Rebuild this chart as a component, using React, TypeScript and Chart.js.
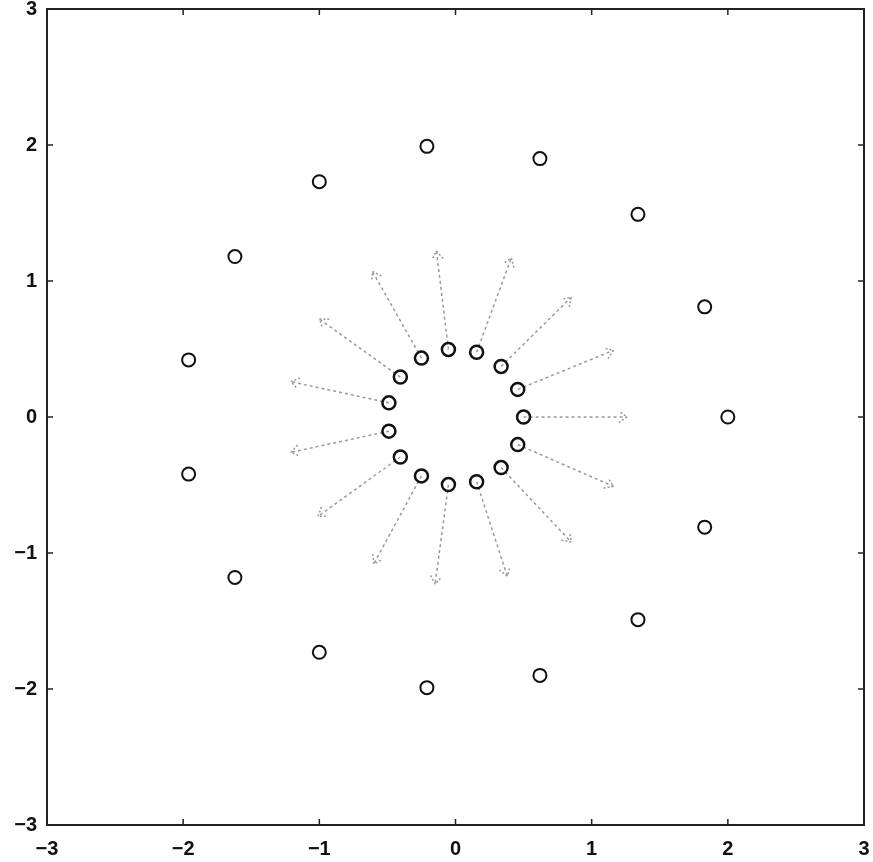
import React, { useEffect, useRef } from "react";
import { Chart, registerables } from "chart.js";

Chart.register(...registerables);

const innerX = [0.5, 0.457, 0.335, 0.155, -0.052, -0.25, -0.405, -0.489, -0.489, -0.405, -0.25, -0.052, 0.155, 0.335, 0.457];
const innerY = [0.0, 0.203, 0.372, 0.476, 0.497, 0.433, 0.294, 0.104, -0.104, -0.294, -0.433, -0.497, -0.476, -0.372, -0.203];
const outerX = [2.0, 1.83, 1.34, 0.62, -0.21, -1.0, -1.62, -1.96, -1.96, -1.62, -1.0, -0.21, 0.62, 1.34, 1.83];
const outerY = [0.0, 0.81, 1.49, 1.9, 1.99, 1.73, 1.18, 0.42, -0.42, -1.18, -1.73, -1.99, -1.9, -1.49, -0.81];
const arrowTipX = [1.26, 1.16, 0.85, 0.41, -0.14, -0.61, -1.0, -1.21, -1.21, -1.01, -0.6, -0.15, 0.38, 0.85, 1.16];
const arrowTipY = [0.0, 0.49, 0.88, 1.17, 1.22, 1.07, 0.72, 0.26, -0.26, -0.73, -1.08, -1.23, -1.17, -0.92, -0.51];
const tickValues = [-3, -2, -1, 0, 1, 2, 3];

const fmt = (v: number) => (v < 0 ? "\u2212" + Math.abs(v) : String(v));

const framePlugin = {
  id: "frameAndArrows",
  beforeDatasetsDraw(chart: any) {
    const ctx = chart.ctx;
    const xs = chart.scales.x;
    const ys = chart.scales.y;
    ctx.save();
    ctx.strokeStyle = "#9a9a9a";
    ctx.lineWidth = 1.5;
    for (let i = 0; i < innerX.length; i++) {
      const x0 = xs.getPixelForValue(innerX[i]);
      const y0 = ys.getPixelForValue(innerY[i]);
      const x1 = xs.getPixelForValue(arrowTipX[i]);
      const y1 = ys.getPixelForValue(arrowTipY[i]);
      ctx.setLineDash([3, 3]);
      ctx.beginPath();
      ctx.moveTo(x0, y0);
      ctx.lineTo(x1, y1);
      ctx.stroke();
      const ang = Math.atan2(y1 - y0, x1 - x0);
      const hl = 10;
      const ha = 0.6;
      ctx.setLineDash([2, 2]);
      ctx.beginPath();
      ctx.moveTo(x1 - hl * Math.cos(ang - ha), y1 - hl * Math.sin(ang - ha));
      ctx.lineTo(x1, y1);
      ctx.lineTo(x1 - hl * Math.cos(ang + ha), y1 - hl * Math.sin(ang + ha));
      ctx.stroke();
    }
    ctx.restore();
  },
  afterDraw(chart: any) {
    const ctx = chart.ctx;
    const a = chart.chartArea;
    const xs = chart.scales.x;
    const ys = chart.scales.y;
    ctx.save();
    ctx.setLineDash([]);
    ctx.strokeStyle = "#222";
    ctx.lineWidth = 2;
    ctx.strokeRect(a.left, a.top, a.right - a.left, a.bottom - a.top);
    ctx.lineWidth = 1.5;
    const tl = 6;
    ctx.beginPath();
    for (const v of tickValues) {
      const px = xs.getPixelForValue(v);
      ctx.moveTo(px, a.bottom);
      ctx.lineTo(px, a.bottom - tl);
      ctx.moveTo(px, a.top);
      ctx.lineTo(px, a.top + tl);
      const py = ys.getPixelForValue(v);
      ctx.moveTo(a.left, py);
      ctx.lineTo(a.left + tl, py);
      ctx.moveTo(a.right, py);
      ctx.lineTo(a.right - tl, py);
    }
    ctx.stroke();
    ctx.restore();
  },
};

export default function App() {
  const ref = useRef<HTMLCanvasElement | null>(null);
  useEffect(() => {
    if (!ref.current) return;
    const pts = (xa: number[], ya: number[]) => xa.map((x, i) => ({ x, y: ya[i] }));
    const tickFont = { family: "Liberation Sans", size: 20, weight: "bold" as const };
    const chart = new Chart(ref.current, {
      type: "scatter",
      data: {
        datasets: [
          {
            data: pts(innerX, innerY),
            pointStyle: "circle",
            pointRadius: 6.5,
            borderWidth: 2.5,
            borderColor: "#111",
            backgroundColor: "rgba(0,0,0,0)",
          },
          {
            data: pts(outerX, outerY),
            pointStyle: "circle",
            pointRadius: 6.5,
            borderWidth: 2,
            borderColor: "#111",
            backgroundColor: "rgba(0,0,0,0)",
          },
        ],
      },
      options: {
        animation: false,
        responsive: true,
        maintainAspectRatio: false,
        layout: { padding: { top: 8, right: 6, left: 0, bottom: 0 } },
        plugins: { legend: { display: false }, tooltip: { enabled: false } },
        scales: {
          x: {
            type: "linear",
            min: -3,
            max: 3,
            afterBuildTicks: (s: any) => {
              s.ticks = tickValues.map((v) => ({ value: v }));
            },
            afterFit: (s: any) => {
              s.height = 37;
              s.paddingLeft = 0;
              s.paddingRight = 0;
            },
            ticks: {
              callback: (v: any) => fmt(Number(v)),
              font: tickFont,
              color: "#111",
              padding: 12,
              maxRotation: 0,
            },
            grid: { drawOnChartArea: false, drawTicks: false },
            border: { display: false },
          },
          y: {
            type: "linear",
            min: -3,
            max: 3,
            afterBuildTicks: (s: any) => {
              s.ticks = tickValues.map((v) => ({ value: v }));
            },
            afterFit: (s: any) => {
              s.width = 47;
              s.paddingTop = 0;
              s.paddingBottom = 0;
            },
            ticks: {
              callback: (v: any) => fmt(Number(v)),
              font: tickFont,
              color: "#111",
              padding: 10,
            },
            grid: { drawOnChartArea: false, drawTicks: false },
            border: { display: false },
          },
        },
      },
      plugins: [framePlugin],
    } as any);
    return () => chart.destroy();
  }, []);
  return (
    <div style={{ position: "fixed", left: 0, top: 0, width: 873, height: 862, background: "#fff" }}>
      <canvas ref={ref} />
    </div>
  );
}
